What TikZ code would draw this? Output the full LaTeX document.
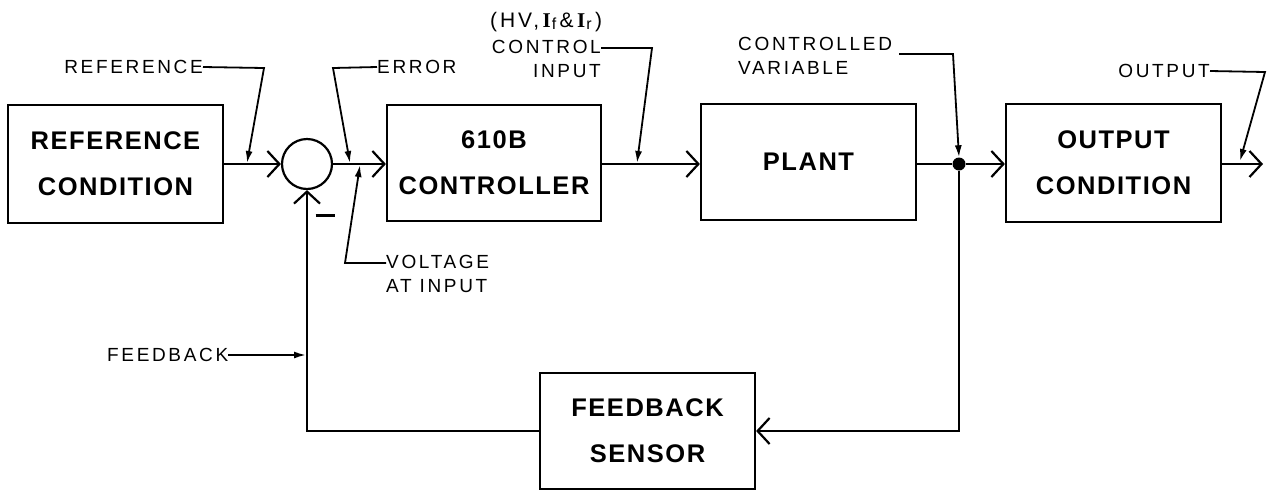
\documentclass[tikz,border=0pt]{standalone}
\usepackage{fontspec}
\setmainfont{Liberation Sans}
\newfontfamily\boxfont[LetterSpace=6]{Liberation Sans}
\newfontfamily\labfont[LetterSpace=14]{Liberation Sans}
\newfontfamily\serfont{Liberation Serif}
\usetikzlibrary{arrows.meta}
\begin{document}
\begin{tikzpicture}[x=1pt,y=-1pt,
  blk/.style={draw,line width=2.2pt,inner sep=0pt,font=\boxfont\bfseries\fontsize{25.5}{46}\selectfont,align=center},
  lab/.style={inner sep=0pt,font=\labfont\fontsize{19}{24}\selectfont},
  flow/.style={line width=2.2pt,-{Straight Barb[length=12pt,width=26pt,line width=2.2pt]}},
  lead/.style={line width=1.8pt,-{Latex[length=12pt,width=7pt]}},
  plain/.style={line width=2.2pt}]
\useasboundingbox (0,0) rectangle (1270,491);
% blocks
\node[blk,minimum width=215pt,minimum height=118pt] (ref) at (115.5,164) {REFERENCE\\CONDITION};
\node[draw,circle,line width=2.2pt,minimum size=50pt,inner sep=0pt] (sum) at (307,164) {};
\node[blk,minimum width=214pt,minimum height=116pt] (ctl) at (494,163) {610B\\CONTROLLER};
\node[blk,minimum width=215pt,minimum height=116pt] (plant) at (808.5,162) {PLANT};
\node[blk,minimum width=215pt,minimum height=118pt] (out) at (1113.5,163) {OUTPUT\\CONDITION};
\node[blk,minimum width=215pt,minimum height=116pt] (fbs) at (647.5,431) {FEEDBACK\\SENSOR};
\node[circle,fill,inner sep=0pt,minimum size=13pt] (dot) at (959,164) {};
\coordinate (outend) at (1263,164);
\coordinate (fbcorner) at (959,431);
\coordinate (sumcorner) at (307,431);
% main flow
\draw[flow] (ref.east |- sum.west) -- (sum.west);
\draw[flow] (sum.east) -- (ctl.west |- sum.east);
\draw[flow] (ctl.east |- sum.east) -- (plant.west |- sum.east);
\draw[plain] (plant.east |- dot) -- (dot);
\draw[flow] (dot) -- (out.west |- dot);
\draw[flow] (out.east |- dot) -- (outend);
\draw[flow,line join=miter] (dot) -- (fbcorner) -- (fbs.east);
\draw[flow,line join=miter] (fbs.west) -- (sumcorner) -- (sum.south);
\node[inner sep=0pt] (minus) at (325,215) {\rule{19pt}{3pt}};
% labels
\node[lab,anchor=east] (lref) at (203,67) {REFERENCE};
\coordinate (lrefa) at (264,68);
\coordinate (lreft) at (247,163);
\draw[lead] (lref.east) -- (lrefa) -- (lreft);
\node[lab,anchor=west] (lerr) at (377,67) {ERROR};
\coordinate (lerra) at (333,68);
\coordinate (lerrt) at (350,163);
\draw[lead] (lerr.west) -- (lerra) -- (lerrt);
\node[lab,anchor=west,align=left] (lvol) at (386,274) {VOLTAGE\\AT INPUT};
\coordinate (lvola) at (345,263);
\coordinate (lvolt) at (360,165);
\draw[lead] (lvol.west |- lvola) -- (lvola) -- (lvolt);
\node[lab,anchor=west,font=\labfont\fontsize{21}{24}\selectfont] (lhv) at (490,22) {(HV,\,{\serfont\bfseries I}\kern1pt\raisebox{-2pt}{\fontsize{16}{16}\selectfont f}\,\&\,{\serfont\bfseries I}\kern1pt\raisebox{-2pt}{\fontsize{16}{16}\selectfont r}\,)};
\node[lab,anchor=north east,align=right] (lci) at (601,40) {CONTROL\\INPUT};
\coordinate (lcia) at (652,48);
\coordinate (lcit) at (637,163);
\draw[lead] (601,48) -- (lcia) -- (lcit);
\node[lab,anchor=west,align=left] (lcv) at (738,56) {CONTROLLED\\VARIABLE};
\coordinate (lcva) at (953,54);
\draw[lead] (899,54) -- (lcva) -- (dot.north);
\node[lab,anchor=east] (lout) at (1210,71) {OUTPUT};
\coordinate (louta) at (1265,72);
\coordinate (loutt) at (1240,161);
\draw[lead] (lout.east) -- (louta) -- (loutt);
\node[lab,anchor=west] (lfb) at (107,355) {FEEDBACK};
\coordinate (lfbt) at (306,355);
\draw[lead] (lfb.east) -- (lfbt);
\end{tikzpicture}
\end{document}
